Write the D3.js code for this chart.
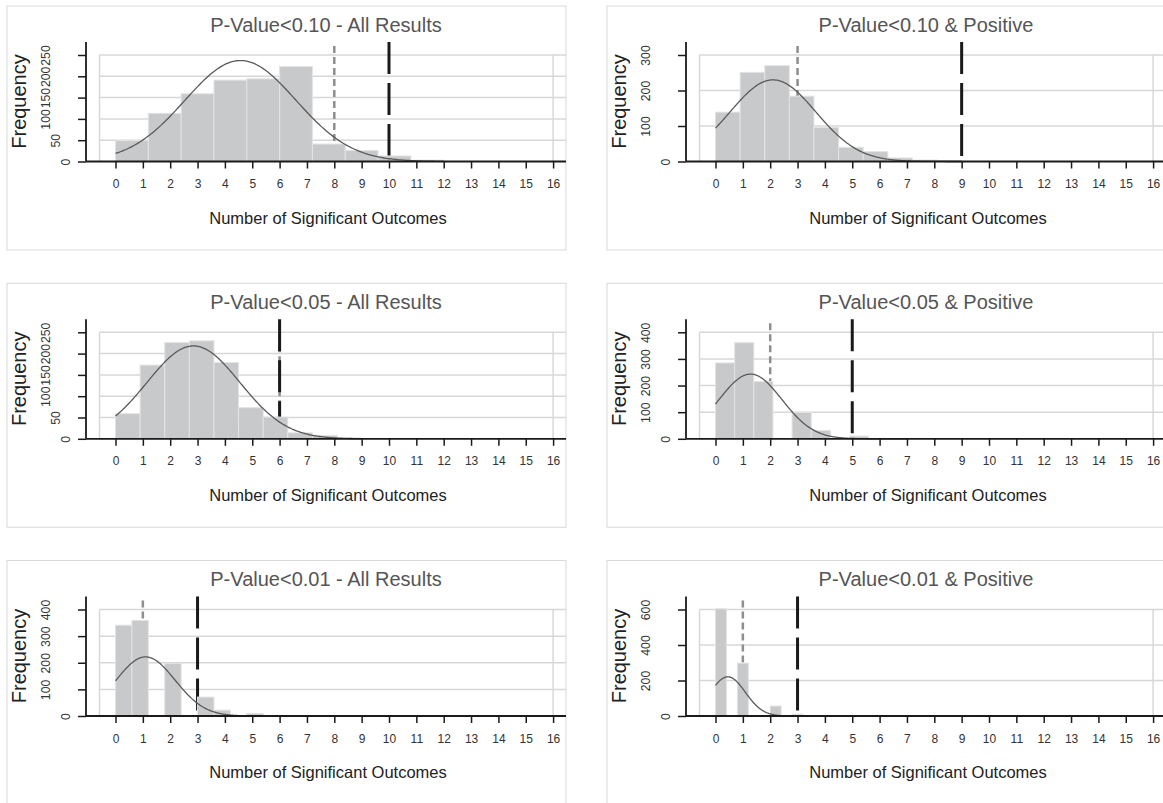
<!DOCTYPE html>
<html>
  <head>
    <meta charset="UTF-8">
    <title>Significant outcomes histograms</title>
    <script src="https://d3js.org/d3.v7.min.js"></script>
    <style>
      body { margin: 0; background: #fff; }
      text { font-family: "Liberation Sans", Arial, sans-serif; }
    </style>
  </head>
  <body>
    <svg id="chart" width="1163" height="803"></svg>
    <script>
      // Panel titles, in reading order (left->right, top->bottom)
      const panelTitles = [
        "P-Value<0.10 - All Results", "P-Value<0.10 & Positive",
        "P-Value<0.05 - All Results", "P-Value<0.05 & Positive",
        "P-Value<0.01 - All Results", "P-Value<0.01 & Positive"
      ];

      // Histogram bin width of each panel (bins start at 0)
      const binWidths = [1.2, 0.9, 0.9, 0.7, 0.6, 0.4];

      // Bar frequencies
      const freqP10All = [49, 113, 159, 191, 194, 223, 41, 26, 13, 3];
      const freqP10Pos = [139, 251, 270, 184, 96, 40, 28, 10, 4, 2];
      const freqP05All = [59, 173, 226, 230, 179, 73, 51, 14, 8, 2];
      const freqP05Pos = [285, 361, 215, 0, 99, 31, 0, 10, 0, 0];
      const freqP01All = [341, 359, 0, 198, 0, 71, 22, 0, 9, 0];
      const freqP01Pos = [604, 0, 298, 0, 0, 56, 0, 10, 0, 0];
      const frequencies = [freqP10All, freqP10Pos, freqP05All, freqP05Pos, freqP01All, freqP01Pos];

      // Normal density overlay: mean, sd and peak height
      const normalMean = [4.57, 2.1, 2.85, 1.28, 1.1, 0.45];
      const normalSd = [2.03, 1.57, 1.7, 1.15, 1.08, 0.64];
      const normalPeak = [237, 230, 218, 243, 222, 221];

      // Reference lines: short grey dashes and long black dashes
      const greyLineAt = [8, 3, 6, 2, 1, 1];
      const blackLineAt = [10, 9, 6, 5, 3, 3];

      // y axis ticks
      const yTickMax = [250, 300, 250, 400, 400, 600];
      const yTickStep = [50, 100, 50, 100, 100, 200];

      // x axis ticks
      const xTickValues = d3.range(0, 17);

      const svg = d3.select("#chart");
      const axisXs = [86, 686];
      const rowTops = [6, 283.3, 560.5];

      panelTitles.forEach((title, i) => {
        const ax = axisXs[i % 2];
        const top = rowTops[Math.floor(i / 2)];
        const right = ax + 480;
        const baseY = top + 155.5;
        const g = svg.append("g");

        // panel frame
        g.append("rect")
          .attr("x", ax - 79).attr("y", top)
          .attr("width", 559).attr("height", 244)
          .attr("fill", "none").attr("stroke", "#d9d9d9").attr("stroke-width", 1);

        const x = d3.scaleLinear().domain([0, 16]).range([ax + 29.5, ax + 29.5 + 16 * 27.35]);
        const y = d3.scaleLinear().domain([0, yTickMax[i]]).range([baseY, top + 49]);
        const yTicks = d3.range(0, yTickMax[i] + 1, yTickStep[i]);

        // grid lines
        g.selectAll(".grid")
          .data(yTicks.filter(t => t > 0))
          .join("line")
          .attr("x1", ax + 13.5).attr("x2", right)
          .attr("y1", d => y(d)).attr("y2", d => y(d))
          .attr("stroke", "#d7d7d7").attr("stroke-width", 1.5);
        g.selectAll(".vgrid")
          .data([ax + 13.5, x(16)])
          .join("line")
          .attr("x1", d => d).attr("x2", d => d)
          .attr("y1", y(yTickMax[i])).attr("y2", baseY)
          .attr("stroke", "#d7d7d7").attr("stroke-width", 1.5);

        // reference lines (behind bars)
        g.append("line")
          .attr("x1", x(greyLineAt[i])).attr("x2", x(greyLineAt[i]))
          .attr("y1", top + 40).attr("y2", baseY)
          .attr("stroke", "#8e8e8e").attr("stroke-width", 2.5)
          .attr("stroke-dasharray", "7,4");
        g.append("line")
          .attr("x1", x(blackLineAt[i])).attr("x2", x(blackLineAt[i]))
          .attr("y1", top + 36).attr("y2", baseY)
          .attr("stroke", "#1a1a1a").attr("stroke-width", 3)
          .attr("stroke-dasharray", "32,9");

        // bars
        const w = binWidths[i];
        g.selectAll(".bar")
          .data(frequencies[i].map((f, k) => ({ x0: k * w, x1: (k + 1) * w, f })).filter(d => d.f > 0))
          .join("rect")
          .attr("x", d => x(d.x0))
          .attr("width", d => x(d.x1) - x(d.x0))
          .attr("y", d => y(d.f))
          .attr("height", d => baseY - y(d.f))
          .attr("fill", "#c8c9cb").attr("stroke", "#e3e3e3").attr("stroke-width", 1);

        // normal density curve over the data range
        const xMax = w * frequencies[i].length;
        const pts = d3.range(0, 201).map(k => {
          const v = xMax * k / 200;
          const z = (v - normalMean[i]) / normalSd[i];
          return [v, normalPeak[i] * Math.exp(-0.5 * z * z)];
        });
        g.append("path")
          .attr("d", d3.line().x(d => x(d[0])).y(d => y(d[1]))(pts))
          .attr("fill", "none").attr("stroke", "#5a5a5a").attr("stroke-width", 1.3);

        // axes
        g.append("line")
          .attr("x1", ax).attr("x2", right).attr("y1", baseY).attr("y2", baseY)
          .attr("stroke", "#1a1a1a").attr("stroke-width", 1.8);
        g.append("line")
          .attr("x1", ax).attr("x2", ax).attr("y1", top + 36).attr("y2", baseY)
          .attr("stroke", "#1a1a1a").attr("stroke-width", 1.8);

        const xAxis = g.append("g")
          .attr("transform", `translate(0,${baseY})`)
          .call(d3.axisBottom(x).tickValues(xTickValues).tickSize(7).tickPadding(11).tickFormat(d3.format("d")));
        xAxis.select(".domain").remove();
        xAxis.selectAll("line").attr("stroke", "#1a1a1a").attr("stroke-width", 1.5);
        xAxis.selectAll("text").attr("font-size", 12).attr("fill", "#333");

        const yAxis = g.append("g")
          .attr("transform", `translate(${ax},0)`)
          .call(d3.axisLeft(y).tickValues(yTicks).tickSize(8));
        yAxis.select(".domain").remove();
        yAxis.selectAll("line").attr("stroke", "#1a1a1a").attr("stroke-width", 1.5);
        yAxis.selectAll("text")
          .attr("x", null).attr("dy", null)
          .attr("text-anchor", "middle")
          .attr("transform", d => `translate(${-(6 + 10 * String(d).length)},0) rotate(-90)`)
          .attr("font-size", 12.3).attr("fill", "#333");

        // texts
        g.append("text")
          .attr("x", ax + 240).attr("y", top + 25.5)
          .attr("text-anchor", "middle").attr("font-size", 20).attr("fill", "#555")
          .text(title);
        g.append("text")
          .attr("x", ax + 242).attr("y", top + 217.5)
          .attr("text-anchor", "middle").attr("font-size", 16.5).attr("fill", "#222")
          .text("Number of Significant Outcomes");
        g.append("text")
          .attr("transform", `translate(${ax - 60},${top + 95.5}) rotate(-90)`)
          .attr("text-anchor", "middle").attr("font-size", 20).attr("fill", "#222")
          .text("Frequency");
      });
    </script>
  </body>
</html>
